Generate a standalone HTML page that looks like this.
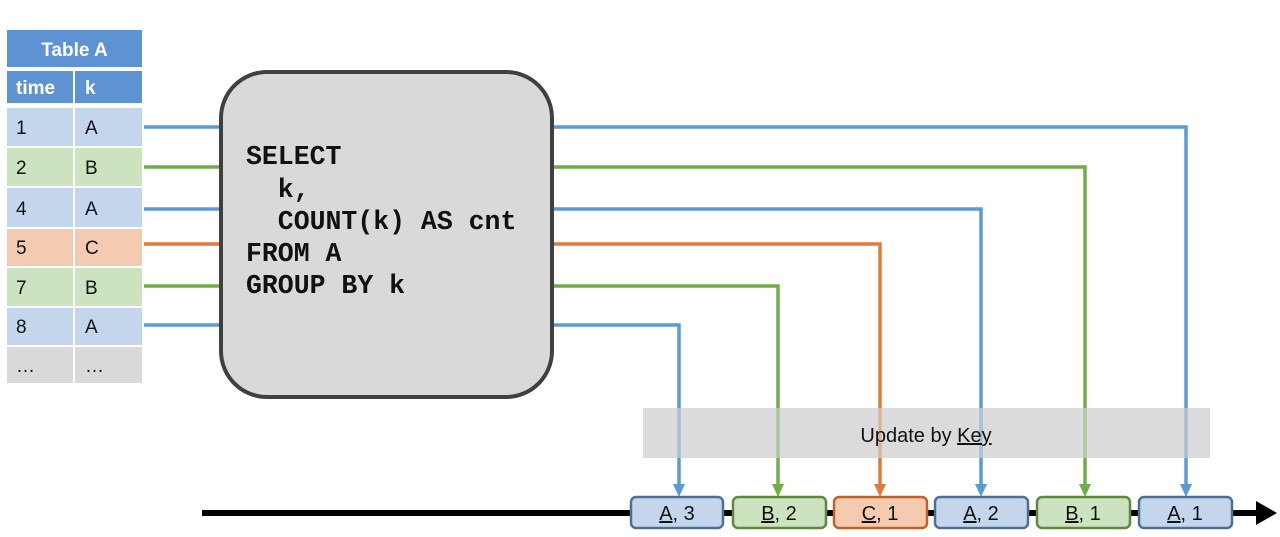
<!DOCTYPE html>
<html><head><style>html,body{margin:0;padding:0;background:#fff;}svg{display:block}</style></head>
<body>
<svg width="1280" height="537" xmlns="http://www.w3.org/2000/svg" font-family="Liberation Sans, sans-serif">
<!-- table -->
<rect x="7" y="30" width="135" height="37" fill="#5e93d3"/>
<text x="74.5" y="56" text-anchor="middle" font-size="19" font-weight="bold" fill="#fff">Table A</text>
<rect x="7" y="71" width="66" height="32" fill="#5e93d3"/>
<rect x="75" y="71" width="67" height="32" fill="#5e93d3"/>
<text x="16" y="94" font-size="19" font-weight="bold" fill="#fff">time</text>
<text x="85" y="94" font-size="19" font-weight="bold" fill="#fff">k</text>
<g font-size="19" fill="#111">
<rect x="7" y="108" width="66" height="38" fill="#c3d6ec"/><rect x="75" y="108" width="67" height="38" fill="#c3d6ec"/>
<text x="16" y="134">1</text><text x="85" y="134">A</text>
<rect x="7" y="148" width="66" height="38" fill="#cde2bf"/><rect x="75" y="148" width="67" height="38" fill="#cde2bf"/>
<text x="16" y="174">2</text><text x="85" y="174">B</text>
<rect x="7" y="188" width="66" height="39" fill="#c3d6ec"/><rect x="75" y="188" width="67" height="39" fill="#c3d6ec"/>
<text x="16" y="215">4</text><text x="85" y="215">A</text>
<rect x="7" y="229" width="66" height="37" fill="#f4cbb0"/><rect x="75" y="229" width="67" height="37" fill="#f4cbb0"/>
<text x="16" y="254">5</text><text x="85" y="254">C</text>
<rect x="7" y="268" width="66" height="38" fill="#cde2bf"/><rect x="75" y="268" width="67" height="38" fill="#cde2bf"/>
<text x="16" y="294">7</text><text x="85" y="294">B</text>
<rect x="7" y="308" width="66" height="37" fill="#c3d6ec"/><rect x="75" y="308" width="67" height="37" fill="#c3d6ec"/>
<text x="16" y="333">8</text><text x="85" y="333">A</text>
<rect x="7" y="347" width="66" height="36" fill="#d9d9d9"/><rect x="75" y="347" width="67" height="36" fill="#d9d9d9"/>
<text x="16" y="372">…</text><text x="85" y="372">…</text>
</g>
<!-- left lines -->
<g stroke-width="3.5" fill="none">
<line x1="144" y1="127" x2="222" y2="127" stroke="#5b9bd5"/>
<line x1="144" y1="167" x2="222" y2="167" stroke="#70ad47"/>
<line x1="144" y1="209" x2="222" y2="209" stroke="#5b9bd5"/>
<line x1="144" y1="244" x2="222" y2="244" stroke="#e07b39"/>
<line x1="144" y1="286" x2="222" y2="286" stroke="#70ad47"/>
<line x1="144" y1="325" x2="222" y2="325" stroke="#5b9bd5"/>
</g>
<rect x="643" y="408" width="567" height="50" fill="#d9d9d9" opacity="0.85"/>
<g stroke-width="3.5" fill="none">
<polyline points="550,127 1186,127 1186,488" stroke="#5b9bd5"/>
<polyline points="550,167 1085,167 1085,488" stroke="#70ad47"/>
<polyline points="550,209 981,209 981,488" stroke="#5b9bd5"/>
<polyline points="550,244 880,244 880,488" stroke="#e07b39"/>
<polyline points="550,286 778,286 778,488" stroke="#70ad47"/>
<polyline points="550,325 679,325 679,488" stroke="#5b9bd5"/>
</g>
<rect x="643" y="408" width="567" height="50" fill="#d9d9d9" opacity="0.6"/>
<text x="926" y="442" text-anchor="middle" font-size="20" fill="#111">Update by <tspan text-decoration="underline">Key</tspan></text>
<g>
<path d="M673,484 L685,484 L679,497 z" fill="#5b9bd5"/>
<path d="M772,484 L784,484 L778,497 z" fill="#70ad47"/>
<path d="M874,484 L886,484 L880,497 z" fill="#e07b39"/>
<path d="M975,484 L987,484 L981,497 z" fill="#5b9bd5"/>
<path d="M1079,484 L1091,484 L1085,497 z" fill="#70ad47"/>
<path d="M1180,484 L1192,484 L1186,497 z" fill="#5b9bd5"/>
</g>
<rect x="221" y="72" width="331" height="325" rx="46" ry="46" fill="#d9d9d9" stroke="#404040" stroke-width="4"/>
<g font-family="Liberation Mono, monospace" font-weight="bold" font-size="26.5" fill="#111">
<text x="246" y="164">SELECT</text>
<text x="246" y="197" xml:space="preserve">  k,</text>
<text x="246" y="229" xml:space="preserve">  COUNT(k) AS cnt</text>
<text x="246" y="261">FROM A</text>
<text x="246" y="293">GROUP BY k</text>
</g>
<line x1="202" y1="513" x2="1258" y2="513" stroke="#000" stroke-width="6"/>
<path d="M1256,501 L1277,513 L1256,525 z" fill="#000"/>
<g font-size="20" fill="#111" stroke-width="2.5">
<rect x="631" y="497" width="92" height="31" rx="5" fill="#c3d6ec" stroke="#4e6f95"/>
<text x="677" y="520" text-anchor="middle"><tspan text-decoration="underline">A</tspan>, 3</text>
<rect x="733" y="497" width="93" height="31" rx="5" fill="#cde2bf" stroke="#5a8a3e"/>
<text x="779" y="520" text-anchor="middle"><tspan text-decoration="underline">B</tspan>, 2</text>
<rect x="834" y="497" width="93" height="31" rx="5" fill="#f4cbb0" stroke="#c0612a"/>
<text x="880" y="520" text-anchor="middle"><tspan text-decoration="underline">C</tspan>, 1</text>
<rect x="935" y="497" width="93" height="31" rx="5" fill="#c3d6ec" stroke="#4e6f95"/>
<text x="981" y="520" text-anchor="middle"><tspan text-decoration="underline">A</tspan>, 2</text>
<rect x="1037" y="497" width="93" height="31" rx="5" fill="#cde2bf" stroke="#5a8a3e"/>
<text x="1083" y="520" text-anchor="middle"><tspan text-decoration="underline">B</tspan>, 1</text>
<rect x="1139" y="497" width="93" height="31" rx="5" fill="#c3d6ec" stroke="#4e6f95"/>
<text x="1185" y="520" text-anchor="middle"><tspan text-decoration="underline">A</tspan>, 1</text>
</g>
</svg>
</body></html>
